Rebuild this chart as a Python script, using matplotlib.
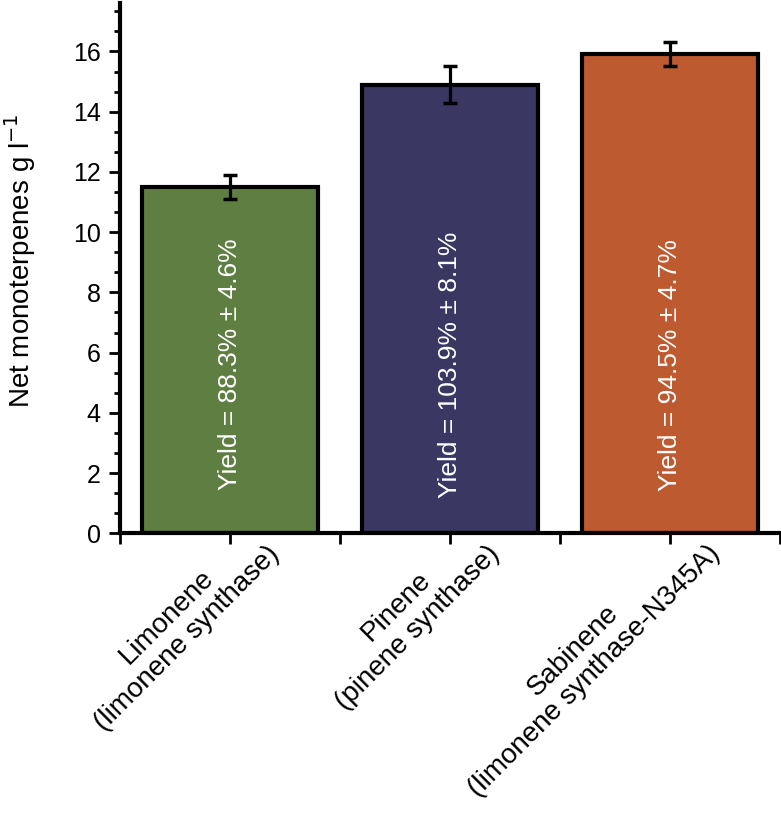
import matplotlib
matplotlib.use('Agg')
import matplotlib.pyplot as plt
from matplotlib.ticker import MultipleLocator
import matplotlib.transforms as mtransforms

plt.rcParams['font.family'] = ['Liberation Sans', 'DejaVu Sans']

# data
products = ['Limonene\n(limonene synthase)', 'Pinene\n(pinene synthase)',
            'Sabinene\n(limonene synthase-N345A)']
monoterpenes = [11.5, 14.9, 15.9]
errors = [0.4, 0.6, 0.4]
yields = ['Yield = 88.3% \u00b1 4.6%', 'Yield = 103.9% \u00b1 8.1%', 'Yield = 94.5% \u00b1 4.7%']
colors = ['#5f7f42', '#3a3762', '#be5a30']

fig = plt.figure(figsize=(7.81, 8.13), dpi=100)
ax = fig.add_axes([0.154, 0.344, 0.845, 0.652])

x = range(len(products))
ax.bar(x, monoterpenes, width=0.8, color=colors, edgecolor='black', linewidth=3,
       yerr=errors, error_kw=dict(ecolor='black', elinewidth=2.3, capsize=5, capthick=2.5),
       zorder=2)

for i, txt in enumerate(yields):
    ax.text(i, 5.6, txt, rotation=90, ha='center', va='center', color='white', fontsize=19)

ax.set_xlim(-0.5, 2.5)
ax.set_ylim(0, 17.6)

for s in ['top', 'right']:
    ax.spines[s].set_visible(False)
for s in ['left', 'bottom']:
    ax.spines[s].set_linewidth(3)

ax.yaxis.set_major_locator(MultipleLocator(2))
ax.yaxis.set_minor_locator(MultipleLocator(2 / 3))
ax.tick_params(axis='y', which='major', length=8, width=2, labelsize=18, pad=6)
ax.tick_params(axis='y', which='minor', length=4.5, width=2)

ax.set_xticks(list(x))
ax.set_xticks([-0.5, 0.5, 1.5, 2.5], minor=True)
ax.tick_params(axis='x', which='both', length=8, width=2, labelsize=20)
ax.set_xticklabels(products, rotation=45, ha='right', va='center', rotation_mode='anchor',
                   multialignment='center')
offset = mtransforms.ScaledTranslation(0.35, 0.1, fig.dpi_scale_trans)
for lab in ax.get_xticklabels():
    lab.set_transform(lab.get_transform() + offset)

ax.set_ylabel('Net monoterpenes g l$^{-1}$', fontsize=20)
ax.yaxis.set_label_coords(-0.125, 0.515)

fig.savefig('out.png', dpi=100)
